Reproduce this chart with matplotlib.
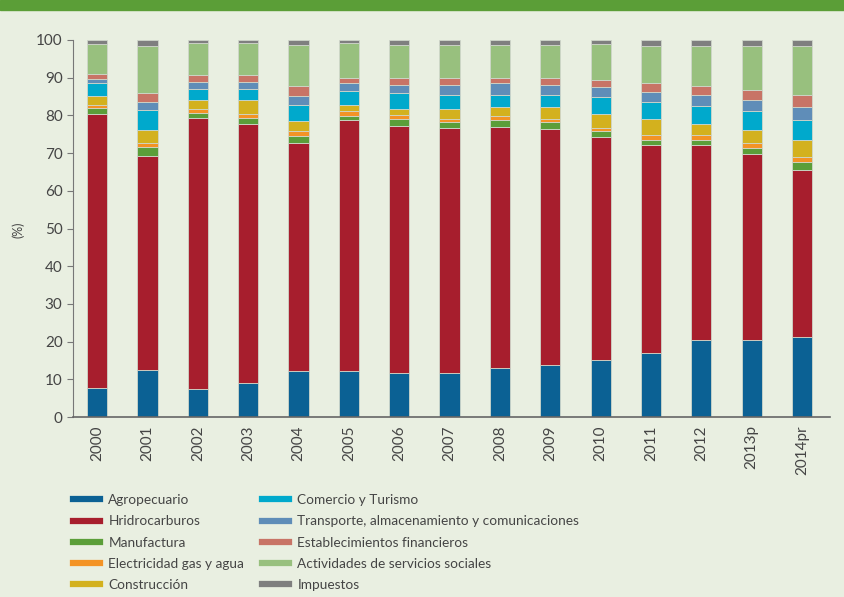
import matplotlib.pyplot as plt
import numpy as np
from matplotlib.lines import Line2D

plt.rcParams['font.family'] = ['Lato', 'DejaVu Sans']

years = ['2000', '2001', '2002', '2003', '2004', '2005', '2006', '2007',
         '2008', '2009', '2010', '2011', '2012', '2013p', '2014pr']

sectors = ['Agropecuario', 'Hridrocarburos', 'Manufactura', 'Electricidad gas y agua',
           'Construcción', 'Comercio y Turismo',
           'Transporte, almacenamiento y comunicaciones', 'Establecimientos financieros',
           'Actividades de servicios sociales', 'Impuestos']

colors = ['#0B6194', '#A71E2D', '#5B9E39', '#F39325', '#D3B11E',
          '#00A9CC', '#5F8DB8', '#C87466', '#98C07E', '#7F7F7F']

# share of each sector (%) per year
agropecuario = [7.7, 12.6, 7.3, 8.9, 12.1, 12.1, 11.6, 11.6, 13.1, 13.7, 15.0, 17.1, 20.3, 20.3, 21.1]
hidrocarburos = [72.7, 56.7, 72.1, 68.8, 60.6, 66.6, 65.7, 65.1, 63.9, 62.6, 59.4, 55.0, 51.8, 49.4, 44.5]
manufactura = [1.6, 2.4, 1.3, 1.7, 1.9, 1.2, 1.7, 1.6, 1.7, 1.9, 1.4, 1.5, 1.5, 1.7, 2.1]
electricidad = [0.7, 1.0, 1.0, 1.0, 1.2, 1.2, 1.0, 0.7, 1.1, 0.8, 0.9, 1.1, 1.1, 1.3, 1.3]
construccion = [2.4, 3.4, 2.4, 3.7, 2.7, 1.6, 1.7, 2.7, 2.3, 3.1, 3.7, 4.3, 3.0, 3.4, 4.4]
comercio = [3.4, 5.2, 3.0, 3.0, 4.2, 3.7, 4.2, 3.7, 3.3, 3.3, 4.4, 4.5, 4.7, 5.0, 5.4]
transporte = [1.1, 2.2, 1.7, 1.7, 2.4, 2.1, 2.2, 2.7, 3.1, 2.7, 2.7, 2.6, 3.0, 3.0, 3.3]
financieros = [1.5, 2.4, 2.0, 2.0, 2.6, 1.5, 1.9, 1.9, 1.5, 1.9, 1.9, 2.6, 2.4, 2.6, 3.3]
sociales = [7.9, 12.6, 8.4, 8.4, 11.1, 9.2, 8.8, 8.8, 8.8, 8.8, 9.5, 9.8, 10.7, 11.8, 13.1]
impuestos = [1.0, 1.5, 0.8, 0.8, 1.2, 0.8, 1.2, 1.2, 1.2, 1.2, 1.1, 1.5, 1.5, 1.5, 1.5]

series = [agropecuario, hidrocarburos, manufactura, electricidad, construccion,
          comercio, transporte, financieros, sociales, impuestos]

bg = '#E9EFE1'
txt = '#454545'

fig = plt.figure(figsize=(8.44, 5.97), dpi=100, facecolor=bg)
ax = fig.add_axes([0.0865, 0.3015, 0.8965, 0.6315])
ax.set_facecolor(bg)

# green band at the top
fig.patches.append(plt.Rectangle((0, 1 - 10 / 597), 1, 10 / 597, transform=fig.transFigure,
                                 color='#5B9E37', zorder=0))

x = np.arange(len(years))
bottom = np.zeros(len(years))
for vals, col in zip(series, colors):
    vals = np.array(vals)
    ax.bar(x, vals, width=0.4, bottom=bottom, color=col, edgecolor='#CFD6CA', linewidth=0.6)
    bottom += vals

ax.set_xlim(-0.48, 14.55)
ax.set_ylim(0, 100)
ax.set_yticks(range(0, 101, 10))
ax.set_xticks(x)
ax.set_xticklabels(years, rotation=90, fontsize=11, color=txt)
ax.tick_params(axis='y', labelsize=11, colors=txt, length=4, color='#777777')
ax.tick_params(axis='x', length=0, pad=6)
fig.text(18 / 844, 1 - 230 / 597, '(%)', rotation=90, fontsize=9, color=txt,
         ha='center', va='center')

for s in ['top', 'right']:
    ax.spines[s].set_visible(False)
ax.spines['left'].set_color('#777777')
ax.spines['bottom'].set_color('#666666')
ax.spines['bottom'].set_linewidth(1.2)

handles = [Line2D([0], [0], color=c, lw=4.5) for c in colors]
fig.legend(handles, sectors, ncol=2, loc='upper left', bbox_to_anchor=(0.072, 0.193),
           frameon=False, fontsize=9.8, handlelength=2.0, handletextpad=0.6,
           columnspacing=1.3, labelspacing=0.68, labelcolor=txt)

fig.savefig('out.png', dpi=100, facecolor=bg)
